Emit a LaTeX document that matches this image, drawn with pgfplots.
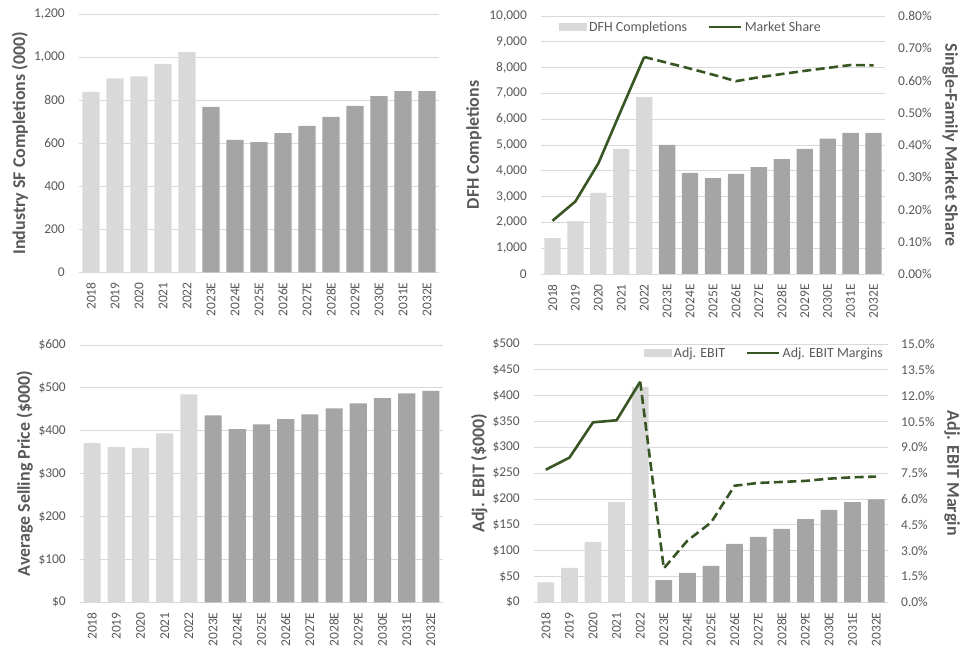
\documentclass[border=0pt]{standalone}
\usepackage{pgfplots}
\pgfplotsset{compat=1.18}
\usepackage{fontspec}
\setmainfont{Carlito}
\definecolor{lightbar}{HTML}{D9D9D9}
\definecolor{darkbar}{HTML}{A5A5A5}
\definecolor{gridc}{HTML}{D9D9D9}
\definecolor{txt}{HTML}{595959}
\definecolor{lgreen}{HTML}{375623}
\pgfplotsset{
  base/.style={
    scale only axis,
    xmin=-0.5, xmax=14.5,
    scaled y ticks=false,
    axis line style={draw=none},
    major tick length=0pt,
    tick style={draw=none},
    tick label style={font=\fontsize{13.5}{15}\selectfont, text=txt, inner sep=0pt},
    /pgf/number format/assume math mode=true,
    label style={font=\fontsize{18}{20}\selectfont\bfseries, text=txt},
  },
  leftax/.style={
    base,
    xtick={0,...,14},
    xticklabels={2018,2019,2020,2021,2022,2023E,2024E,2025E,2026E,2027E,2028E,2029E,2030E,2031E,2032E},
    x tick label style={rotate=90, anchor=east},
    xticklabel shift=10bp,
    yticklabel shift=14bp,
    ymajorgrids,
    grid style={gridc, line width=0.8bp},
    ylabel style={anchor=center, rotate=0},
  },
  rightax/.style={
    base,
    hide x axis,
    axis y line*=right,
    yticklabel shift=13bp,
    y tick label style={anchor=west},
    ylabel style={anchor=center, rotate=180},
  },
  lightb/.style={ybar, bar width=0.71, bar shift=0pt, fill=lightbar, draw=none},
  darkb/.style={ybar, bar width=0.71, bar shift=0pt, fill=darkbar, draw=none},
  gline/.style={lgreen, line width=2.6bp, line join=round},
  gdash/.style={lgreen, line width=2.6bp, line join=round, dash pattern=on 9bp off 4.5bp},
  barleg/.style={legend image code/.code={\fill[##1] (0bp,-4.2bp) rectangle (28bp,4.2bp);}},
  lineleg/.style={legend image code/.code={\draw[##1] (0bp,0bp) -- (32bp,0bp);}},
  legs/.style={
    legend style={draw=none, fill=none, inner sep=0pt, font=\fontsize{14}{16}\selectfont, text=txt,
      nodes={inner sep=2bp},
      /tikz/every even column/.append style={column sep=19bp}},
    legend columns=-1,
  },
}
\begin{document}
\begin{tikzpicture}
\useasboundingbox (0,0) rectangle (973bp,663bp);
% Panel 1
\begin{axis}[leftax, at={(79bp,390.7bp)}, anchor=south west, width=360bp, height=258.3bp,
  ymin=0, ymax=1200, ytick={0,200,400,600,800,1000,1200},
  yticklabels={0,200,400,600,800,{1,000},{1,200}},
  ylabel={Industry SF Completions (000)},
  ylabel style={at={(axis description cs:-0.164,0.5)}}]
\addplot[lightb] coordinates {(0,838) (1,901) (2,910) (3,968) (4,1023)};
\addplot[darkb] coordinates {(5,768) (6,615) (7,605) (8,647) (9,680) (10,722) (11,773) (12,819) (13,842) (14,842)};
\end{axis}
% Panel 2
\begin{axis}[leftax, at={(541bp,389bp)}, anchor=south west, width=344bp, height=258bp,
  ymin=0, ymax=10000, ytick={0,1000,...,10000},
  yticklabels={0,{1,000},{2,000},{3,000},{4,000},{5,000},{6,000},{7,000},{8,000},{9,000},{10,000}},
  ylabel={DFH Completions},
  ylabel style={at={(axis description cs:-0.195,0.5)}}]
\addplot[lightb] coordinates {(0,1395) (1,2054) (2,3140) (3,4845) (4,6860)};
\addplot[darkb] coordinates {(5,5000) (6,3915) (7,3720) (8,3876) (9,4147) (10,4457) (11,4845) (12,5245) (13,5465) (14,5465)};
\end{axis}
\begin{axis}[rightax, legs, at={(541bp,389bp)}, anchor=south west, width=344bp, height=258bp,
  ymin=0, ymax=0.8, ytick={0,0.1,...,0.8},
  yticklabels={0.00\%,0.10\%,0.20\%,0.30\%,0.40\%,0.50\%,0.60\%,0.70\%,0.80\%},
  ylabel={Single-Family Market Share},
  ylabel style={at={(axis description cs:1.189,0.5)}},
  legend style={at={(axis description cs:0.052,0.957)}, anchor=west}]
\addlegendimage{fill=lightbar, draw=none, barleg}
\addlegendentry{DFH Completions}
\addplot[gline, lineleg] coordinates {(0,0.165) (1,0.225) (2,0.343) (3,0.509) (4,0.673)};
\addlegendentry{Market Share}
\addplot[gdash, forget plot] coordinates {(4,0.673) (5,0.655) (6,0.637) (7,0.618) (8,0.598) (9,0.610) (10,0.620) (11,0.630) (12,0.639) (13,0.648) (14,0.647)};
\end{axis}
% Panel 3
\begin{axis}[leftax, at={(80bp,60.7bp)}, anchor=south west, width=363bp, height=257.3bp,
  ymin=0, ymax=600, ytick={0,100,...,600},
  yticklabels={\$0,\$100,\$200,\$300,\$400,\$500,\$600},
  ylabel={Average Selling Price (\$000)},
  ylabel style={at={(axis description cs:-0.152,0.5)}}]
\addplot[lightb] coordinates {(0,371) (1,362) (2,360) (3,394) (4,485)};
\addplot[darkb] coordinates {(5,436) (6,404) (7,415) (8,427) (9,438) (10,452) (11,464) (12,476) (13,487) (14,493)};
\end{axis}
% Panel 4
\begin{axis}[leftax, at={(534bp,60.7bp)}, anchor=south west, width=354bp, height=258.3bp,
  ymin=0, ymax=500, ytick={0,50,...,500},
  yticklabels={\$0,\$50,\$100,\$150,\$200,\$250,\$300,\$350,\$400,\$450,\$500},
  ylabel={Adj. EBIT (\$000)},
  ylabel style={at={(axis description cs:-0.155,0.5)}}]
\addplot[lightb] coordinates {(0,38.7) (1,66.5) (2,116.8) (3,194) (4,417)};
\addplot[darkb] coordinates {(5,43) (6,56.8) (7,70.3) (8,113) (9,126.5) (10,142) (11,161) (12,179) (13,194) (14,199)};
\end{axis}
\begin{axis}[rightax, legs, at={(534bp,60.7bp)}, anchor=south west, width=354bp, height=258.3bp,
  ymin=0, ymax=15, ytick={0,1.5,...,15},
  yticklabels={0.0\%,1.5\%,3.0\%,4.5\%,6.0\%,7.5\%,9.0\%,10.5\%,12.0\%,13.5\%,15.0\%},
  ylabel={Adj. EBIT Margin},
  ylabel style={at={(axis description cs:1.181,0.5)}},
  legend style={at={(axis description cs:0.31,0.965)}, anchor=west}]
\addlegendimage{fill=lightbar, draw=none, barleg}
\addlegendentry{Adj. EBIT}
\addplot[gline, lineleg] coordinates {(0,7.70) (1,8.40) (2,10.45) (3,10.57) (4,12.81)};
\addlegendentry{Adj. EBIT Margins}
\addplot[gdash, forget plot] coordinates {(4,12.81) (5,1.97) (6,3.58) (7,4.63) (8,6.77) (9,6.93) (10,6.99) (11,7.05) (12,7.18) (13,7.26) (14,7.30)};
\end{axis}
\end{tikzpicture}
\end{document}
